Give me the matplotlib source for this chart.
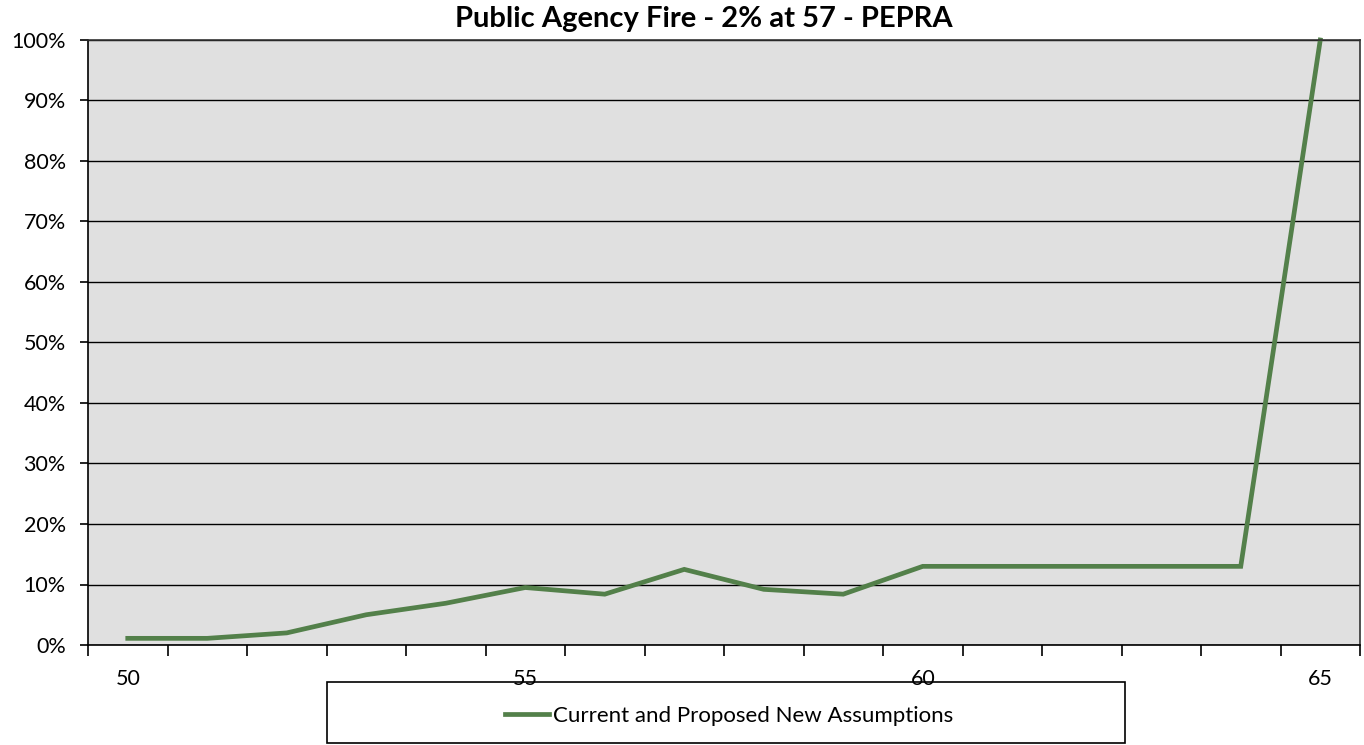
import numpy as np
import matplotlib.pyplot as plt
from matplotlib.patches import Rectangle
from matplotlib.ticker import FuncFormatter

plt.rcParams['font.family'] = ['Lato', 'DejaVu Sans']

ages = [50, 51, 52, 53, 54, 55, 56, 57, 58, 59, 60, 61, 62, 63, 64, 65]
rates = [0.011, 0.011, 0.02, 0.05, 0.069, 0.095, 0.084, 0.125, 0.092, 0.084,
         0.13, 0.13, 0.13, 0.13, 0.13, 1.0]
age_labels = ['50', '55', '60', '65']
series_name = 'Current and Proposed New Assumptions'
title = 'Public Agency Fire - 2% at 57 - PEPRA'

fig = plt.figure(figsize=(13.64, 7.45), dpi=100)
ax = fig.add_axes([88/1364, 100/745, 1272/1364, 605/745])
ax.set_facecolor('#e0e0e0')

pos = np.arange(len(ages))
line, = ax.plot(pos, rates, color='#53804a', lw=3.4, solid_joinstyle='miter',
                clip_on=False, label=series_name)

ax.set_xlim(-0.5, len(ages) - 0.5)
ax.set_ylim(0, 1)
ax.set_yticks(np.arange(0, 1.01, 0.1))
ax.yaxis.set_major_formatter(FuncFormatter(lambda v, p: f'{v*100:.0f}%'))
ax.yaxis.grid(True, color='black', lw=1.0)
ax.set_axisbelow(True)

label_pos = [ages.index(int(a)) for a in age_labels]
ax.set_xticks(label_pos)
ax.set_xticklabels(age_labels)
ax.set_xticks(np.arange(-0.5, len(ages), 1.0), minor=True)
ax.tick_params(axis='x', which='major', length=0, pad=17, labelsize=15.5)
ax.tick_params(axis='x', which='minor', length=8, width=1.2, direction='out', color='black')
ax.tick_params(axis='y', length=6, width=1.2, direction='out', labelsize=15.5, pad=10)

for s in ['left', 'bottom']:
    ax.spines[s].set_color('black')
    ax.spines[s].set_linewidth(1.2)
for s in ['top', 'right']:
    ax.spines[s].set_color('#333333')
    ax.spines[s].set_linewidth(1.2)

fig.text(704/1364, 1 - 19/745, title, ha='center', va='center',
         fontsize=21, fontweight='bold')

fig.patches.append(Rectangle((327/1364, 2/745), 798/1364, 61/745,
                             transform=fig.transFigure, fill=False,
                             edgecolor='black', lw=1.2))
fig.legend(handles=[line], loc='center', bbox_to_anchor=(729/1364, 1 - 716/745),
           frameon=False, fontsize=16, handlelength=2.0, handletextpad=0.15)

fig.savefig('out.png', dpi=100)
